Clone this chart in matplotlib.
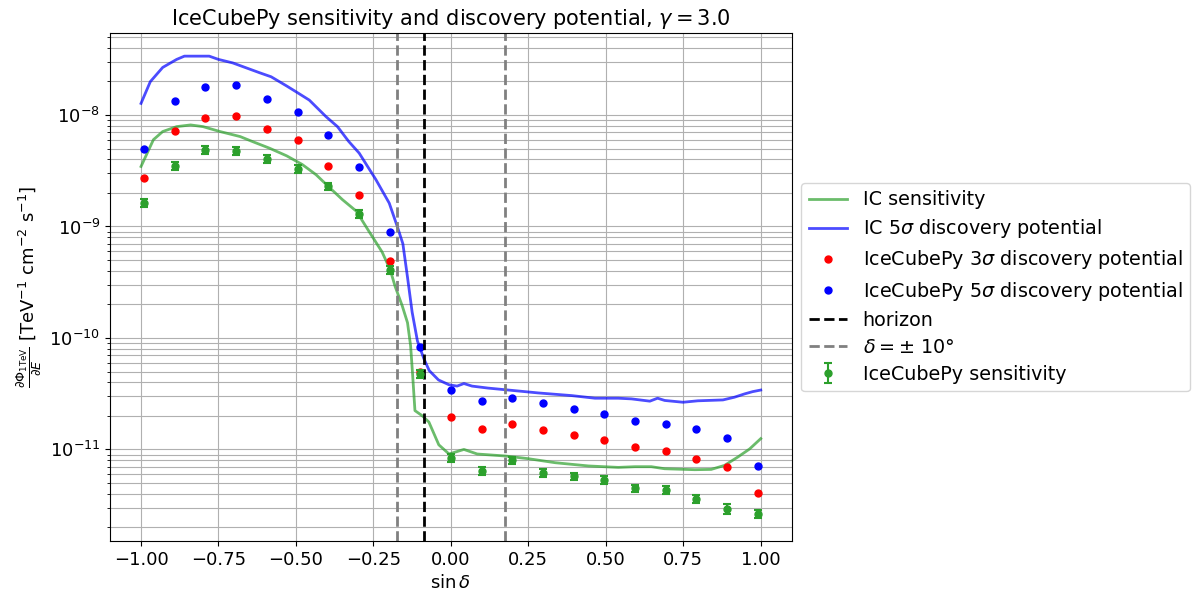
"""
IceCubePy sensitivity and discovery potential vs sin(declination)
"""

import numpy as np
import matplotlib
matplotlib.use("Agg")
import matplotlib.pyplot as plt

plt.rcParams['font.size'] = 13

# IceCubePy points (declination grid)
sin_dec = [-0.99, -0.891, -0.792, -0.693, -0.594, -0.495, -0.396, -0.297, -0.198, -0.099,
           0.0, 0.099, 0.198, 0.297, 0.396, 0.495, 0.594, 0.693, 0.792, 0.891, 0.99]

dp3 = [2.74e-9, 7.24e-9, 9.34e-9, 9.86e-9, 7.50e-9, 5.98e-9, 3.48e-9, 1.90e-9, 4.85e-10, 4.9e-11,
       1.96e-11, 1.52e-11, 1.70e-11, 1.49e-11, 1.34e-11, 1.21e-11, 1.06e-11, 9.74e-12, 8.20e-12,
       6.97e-12, 4.10e-12]

dp5 = [4.97e-9, 1.33e-8, 1.77e-8, 1.85e-8, 1.38e-8, 1.06e-8, 6.63e-9, 3.41e-9, 8.87e-10, 8.3e-11,
       3.40e-11, 2.72e-11, 2.88e-11, 2.60e-11, 2.31e-11, 2.06e-11, 1.80e-11, 1.70e-11, 1.51e-11,
       1.26e-11, 7.11e-12]

sens = [1.64e-9, 3.50e-9, 4.84e-9, 4.76e-9, 4.02e-9, 3.29e-9, 2.29e-9, 1.30e-9, 4.09e-10, 4.78e-11,
        8.43e-12, 6.41e-12, 7.98e-12, 6.15e-12, 5.74e-12, 5.36e-12, 4.48e-12, 4.37e-12, 3.62e-12,
        2.93e-12, 2.64e-12]

# errors on the sensitivity points
sens_err = [0.13e-9, 0.28e-9, 0.4e-9, 0.38e-9, 0.32e-9, 0.26e-9, 0.18e-9, 0.1e-9, 0.33e-10, 0.38e-11,
            0.68e-12, 0.52e-12, 0.64e-12, 0.5e-12, 0.46e-12, 0.43e-12, 0.36e-12, 0.35e-12, 0.29e-12,
            0.32e-12, 0.21e-12]

# Official IC curves
ic_sens_x = [-1.0, -0.98, -0.96, -0.93, -0.885, -0.84, -0.80, -0.745, -0.68, -0.64, -0.585, -0.53,
             -0.48, -0.435, -0.39, -0.35, -0.305, -0.264, -0.222, -0.196, -0.18, -0.157, -0.14,
             -0.13, -0.124, -0.116, -0.092, -0.071, -0.039, -0.006, 0.042, 0.085, 0.176, 0.25,
             0.337, 0.444, 0.54, 0.594, 0.647, 0.69, 0.787, 0.84, 0.883, 0.926, 0.964, 1.0]
ic_sens = [3.45e-9, 4.55e-9, 6.0e-9, 7.1e-9, 7.86e-9, 8.14e-9, 7.86e-9, 7.1e-9, 6.4e-9, 5.77e-9,
           5.03e-9, 4.3e-9, 3.6e-9, 2.91e-9, 2.21e-9, 1.74e-9, 1.37e-9, 9.0e-10, 5.9e-10, 4.1e-10,
           2.9e-10, 1.94e-10, 1.37e-10, 8.5e-11, 4.9e-11, 2.23e-11, 2.0e-11, 1.76e-11, 1.1e-11,
           9.1e-12, 1.0e-11, 9.1e-12, 8.73e-12, 8.26e-12, 7.6e-12, 7.11e-12, 6.9e-12, 7.0e-12,
           7.0e-12, 6.71e-12, 6.58e-12, 6.62e-12, 7.19e-12, 8.55e-12, 1.01e-11, 1.25e-11]

ic_dp_x = [-1.0, -0.97, -0.93, -0.885, -0.86, -0.78, -0.75, -0.704, -0.617, -0.58, -0.53, -0.499,
           -0.457, -0.403, -0.366, -0.33, -0.296, -0.242, -0.199, -0.173, -0.155, -0.14, -0.125,
           -0.108, -0.087, -0.07, -0.04, -0.006, 0.02, 0.042, 0.068, 0.12, 0.176, 0.283, 0.39,
           0.465, 0.54, 0.583, 0.642, 0.667, 0.69, 0.749, 0.797, 0.878, 0.915, 0.948, 0.974, 1.0]
ic_dp = [1.27e-8, 1.99e-8, 2.67e-8, 3.15e-8, 3.37e-8, 3.37e-8, 3.15e-8, 2.93e-8, 2.39e-8, 2.2e-8,
         1.82e-8, 1.61e-8, 1.36e-8, 9.66e-9, 7.86e-9, 5.8e-9, 4.55e-9, 2.63e-9, 1.62e-9, 1.0e-9,
         7.0e-10, 3.5e-10, 1.7e-10, 9.4e-11, 6.5e-11, 5.1e-11, 4.2e-11, 3.8e-11, 3.7e-11, 3.9e-11,
         3.7e-11, 3.55e-11, 3.43e-11, 3.21e-11, 3.04e-11, 2.88e-11, 2.88e-11, 2.84e-11, 2.71e-11,
         2.88e-11, 2.75e-11, 2.65e-11, 2.73e-11, 2.78e-11, 2.94e-11, 3.15e-11, 3.30e-11, 3.41e-11]

horizon = -np.sin(np.radians(5))
band = np.sin(np.radians(10))

fig = plt.figure(figsize=(11.96, 6.01), dpi=100)
ax = fig.add_subplot(111)
fig.subplots_adjust(left=0.092, right=0.662, bottom=0.0998, top=0.945)

ax.plot(ic_sens_x, ic_sens, color='tab:green', alpha=0.7, lw=2, label='IC sensitivity')
ax.plot(ic_dp_x, ic_dp, color='blue', alpha=0.7, lw=2, label=r'IC 5$\sigma$ discovery potential')
ax.plot(sin_dec, dp3, 'o', color='red', ms=5, label=r'IceCubePy 3$\sigma$ discovery potential')
ax.plot(sin_dec, dp5, 'o', color='blue', ms=5, label=r'IceCubePy 5$\sigma$ discovery potential')

ax.axvline(horizon, color='black', ls='--', lw=2, label='horizon')
ax.axvline(band, color='grey', ls='--', lw=2, label=r'$\delta = \pm$ 10°')
ax.axvline(-band, color='grey', ls='--', lw=2)

ax.errorbar(sin_dec, sens, yerr=sens_err, fmt='o', color='tab:green', ms=5, capsize=2.6,
            elinewidth=1.5, capthick=1.5, label='IceCubePy sensitivity')

ax.set_yscale('log')
ax.grid(True, which='both')
ax.set_xlabel(r'$\sin\delta$')
ax.set_ylabel(r'$\frac{\partial \Phi_{\rm 1TeV}}{\partial E}$ [TeV$^{-1}$ cm$^{-2}$ s$^{-1}$]')
ax.set_title(r'IceCubePy sensitivity and discovery potential, $\gamma = 3.0$', fontsize=15)
ax.legend(loc='center left', bbox_to_anchor=(1, 0.5), fontsize=13.8, labelspacing=0.42)

fig.savefig('out.png', dpi=100)
